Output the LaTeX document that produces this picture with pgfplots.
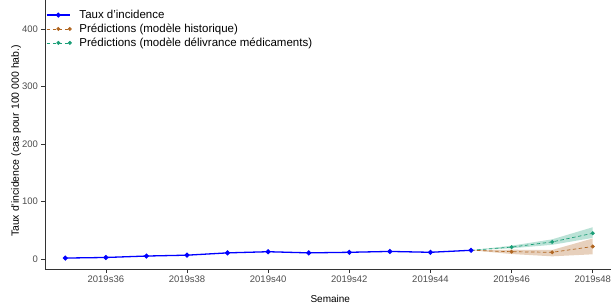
\documentclass[border=0pt]{standalone}
\usepackage{fontspec}
\setmainfont{Liberation Sans}
\usepackage{pgfplots}
\pgfplotsset{compat=1.18}
\definecolor{obsblue}{RGB}{0,0,255}
\definecolor{histbrown}{RGB}{176,101,32}
\definecolor{medgreen}{RGB}{27,158,119}
\definecolor{axgray}{RGB}{51,51,51}
\definecolor{ticktext}{RGB}{77,77,77}
\begin{document}
\begin{tikzpicture}
\begin{axis}[
  scale only axis, width=566bp, height=269bp,
  xmin=34.5, xmax=48.45, ymin=-17, ymax=450,
  axis x line*=bottom, axis y line*=left,
  axis line style={-, axgray, line width=0.6bp},
  xtick={36,38,40,42,44,46,48},
  xticklabels={2019s36,2019s38,2019s40,2019s42,2019s44,2019s46,2019s48},
  ytick={0,100,200,300,400},
  tick align=outside, major tick length=3.5bp,
  tick style={axgray, line width=0.6bp},
  ticklabel style={font=\fontsize{9.5bp}{11bp}\selectfont, text=ticktext},
  /pgf/number format/assume math mode=true,
  xlabel={Semaine},
  ylabel={Taux d'incidence (cas pour 100 000 hab.)},
  xlabel style={at={(axis description cs:0.504,-0.1115)}, anchor=center, font=\fontsize{10bp}{12bp}\selectfont},
  ylabel style={at={(axis description cs:-0.051,0.476)}, anchor=center, font=\fontsize{10.5bp}{12bp}\selectfont},
  legend style={at={(axis description cs:0.0,0.974)}, anchor=north west, draw=none, fill=none,
    font=\fontsize{11.5bp}{13.5bp}\selectfont, inner sep=1bp, row sep=0bp},
  legend cell align=left,
  legend image code/.code={\draw[mark repeat=2,mark phase=2,#1] plot coordinates {(0bp,0bp) (11.5bp,0bp) (23bp,0bp)}; \path (30bp,0bp);},
  clip=false,
]
\coordinate (ll) at (rel axis cs:0,0);
\coordinate (ur) at (rel axis cs:1,1);
% ribbons
\addplot[fill=histbrown, fill opacity=0.3, draw=none, forget plot] coordinates {
  (45,15.5) (46,16.5) (47,16) (48,36) (48,8.5) (47,5) (46,9) (45,15.5)} -- cycle;
\addplot[fill=medgreen, fill opacity=0.3, draw=none, forget plot] coordinates {
  (45,15.5) (46,23.5) (47,34.5) (48,55.5) (48,37) (47,25) (46,19) (45,15.5)} -- cycle;
% observed
\addplot[obsblue, line width=1.3bp, mark=*, mark size=1.8bp, mark options={solid}] coordinates {
  (35,2) (36,3) (37,5.5) (38,7) (39,11) (40,13) (41,11) (42,12) (43,13.5) (44,12) (45,15.5)};
\addlegendentry{Taux d'incidence}
\addplot[histbrown, line width=0.7bp, dash pattern=on 3.5bp off 2.5bp, mark=*, mark size=1.6bp, mark options={solid}, mark indices={2,3,4}] coordinates {
  (45,15.5) (46,13) (47,12) (48,22)};
\addlegendentry{Prédictions (modèle historique)}
\addplot[medgreen, line width=0.7bp, dash pattern=on 3.5bp off 2.5bp, mark=*, mark size=1.6bp, mark options={solid}, mark indices={2,3,4}] coordinates {
  (45,15.5) (46,21) (47,30) (48,45)};
\addlegendentry{Prédictions (modèle délivrance médicaments)}
\end{axis}
\pgfresetboundingbox
\useasboundingbox ([shift={(-45bp,-36bp)}]ll) rectangle (ur);
\end{tikzpicture}
\end{document}
